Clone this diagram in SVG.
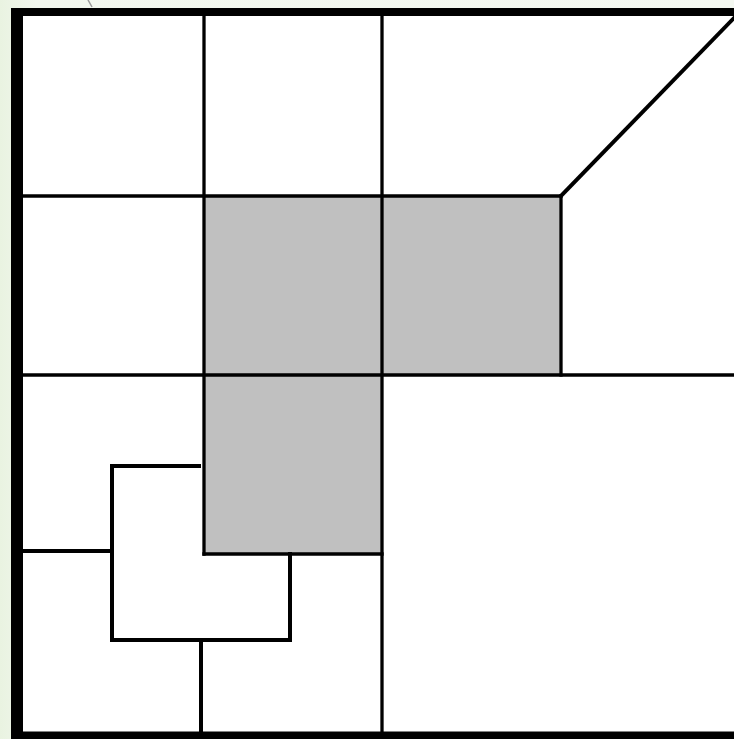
<svg xmlns="http://www.w3.org/2000/svg" width="734" height="739" viewBox="0 0 734 739">
<defs>
<linearGradient id="bg" x1="0" y1="0" x2="1" y2="0">
<stop offset="0" stop-color="#e9f3e1"/>
<stop offset="0.05" stop-color="#f2f7ee"/>
<stop offset="1" stop-color="#f4f8f1"/>
</linearGradient>
<style>
.ln{stroke:#000;stroke-width:3.3;fill:none;stroke-linecap:square}
.th{stroke-width:4}
.sh{fill:#c0c0c0}
</style>
</defs>
<rect width="734" height="739" fill="url(#bg)"/>
<line x1="88" y1="0" x2="92" y2="7" stroke="#9a9a9a" stroke-width="1.5"/>
<g id="frame">
<rect x="17" y="12" width="724" height="723.5" fill="#fff" stroke="#000" stroke-width="8"/>
<rect x="11" y="8" width="12" height="731" fill="#000"/>
</g>
<g id="shaded">
<rect class="sh" x="204" y="196" width="357" height="179"/>
<rect class="sh" x="204" y="375" width="178" height="179"/>
</g>
<g id="connectors">
<line class="ln" x1="23" y1="196" x2="561" y2="196"/>
<line class="ln" x1="23" y1="375" x2="734" y2="375"/>
<line class="ln" x1="204" y1="16" x2="204" y2="554"/>
<line class="ln" x1="382" y1="16" x2="382" y2="732"/>
<line class="ln" x1="561" y1="196" x2="561" y2="375"/>
<line class="ln" x1="204" y1="554" x2="382" y2="554"/>
<line class="ln th" x1="561" y1="196" x2="734" y2="18"/>
<line class="ln th" x1="23" y1="551" x2="112" y2="551"/>
<path class="ln th" d="M199 466 H112 V640 H290 V554"/>
<line class="ln th" x1="201" y1="640" x2="201" y2="732"/>
</g>
</svg>
